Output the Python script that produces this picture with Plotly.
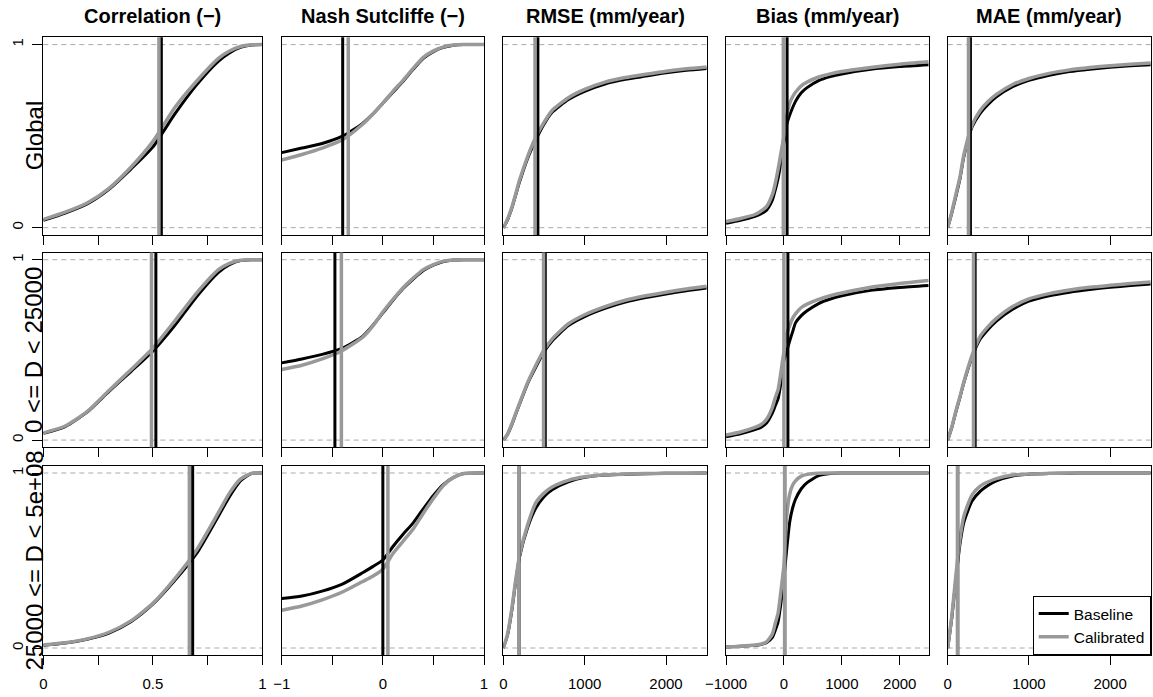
import plotly.graph_objects as go

FONT = "Liberation Sans, Arial, Helvetica, sans-serif"
W, H = 1153, 697
BASE_COLOR = "#000000"
CAL_COLOR = "#999999"

metric_titles = ["Correlation (\u2212)", "Nash Sutcliffe (\u2212)", "RMSE (mm/year)",
                 "Bias (mm/year)", "MAE (mm/year)"]
group_labels = ["Global", "0 <= D < 25000", "25000 <= D < 5e+08"]
series_names = ["Baseline", "Calibrated"]

# ---- Correlation: empirical CDFs ----
corr_x = [0, 0.1, 0.2, 0.3, 0.4, 0.5, 0.6, 0.7, 0.8, 0.85, 0.9, 0.95, 1.0]
corr_global_base = [0.04, 0.08, 0.13, 0.21, 0.32, 0.44, 0.62, 0.78, 0.91, 0.955, 0.985, 0.998, 1.0]
corr_global_cal = [0.045, 0.085, 0.135, 0.215, 0.33, 0.47, 0.655, 0.80, 0.925, 0.965, 0.99, 0.999, 1.0]
corr_small_base = [0.037, 0.075, 0.155, 0.27, 0.38, 0.493, 0.635, 0.795, 0.93, 0.972, 0.995, 1.0, 1.0]
corr_small_cal = [0.04, 0.078, 0.158, 0.275, 0.39, 0.51, 0.66, 0.815, 0.945, 0.98, 0.997, 1.0, 1.0]
corr_large_base = [0.015, 0.028, 0.05, 0.085, 0.15, 0.25, 0.385, 0.54, 0.755, 0.865, 0.955, 0.997, 1.0]
corr_large_cal = [0.018, 0.03, 0.052, 0.09, 0.155, 0.255, 0.395, 0.56, 0.775, 0.885, 0.965, 0.998, 1.0]
corr_median_base = [0.539, 0.514, 0.682]
corr_median_cal = [0.528, 0.494, 0.667]

# ---- Nash Sutcliffe ----
nse_x = [-1, -0.8, -0.6, -0.4, -0.2, -0.1, 0, 0.1, 0.2, 0.3, 0.4, 0.5, 0.6, 0.7, 0.8, 1.0]
nse_global_base = [0.41, 0.435, 0.46, 0.50, 0.57, 0.62, 0.68, 0.74, 0.80, 0.865, 0.925, 0.962, 0.985, 0.997, 1.0, 1.0]
nse_global_cal = [0.37, 0.40, 0.435, 0.48, 0.565, 0.62, 0.68, 0.745, 0.805, 0.87, 0.93, 0.966, 0.988, 0.998, 1.0, 1.0]
nse_small_base = [0.428, 0.45, 0.475, 0.51, 0.575, 0.635, 0.705, 0.775, 0.84, 0.893, 0.94, 0.97, 0.99, 0.998, 1.0, 1.0]
nse_small_cal = [0.391, 0.415, 0.45, 0.497, 0.57, 0.632, 0.71, 0.78, 0.845, 0.898, 0.945, 0.973, 0.992, 0.999, 1.0, 1.0]
nse_large_base = [0.283, 0.297, 0.325, 0.365, 0.43, 0.465, 0.503, 0.58, 0.65, 0.715, 0.795, 0.872, 0.935, 0.975, 0.997, 1.0]
nse_large_cal = [0.216, 0.24, 0.275, 0.32, 0.38, 0.41, 0.45, 0.54, 0.61, 0.68, 0.77, 0.855, 0.93, 0.975, 0.997, 1.0]
nse_median_base = [-0.397, -0.474, 0.0]
nse_median_cal = [-0.342, -0.41, 0.05]

# ---- RMSE ----
rmse_x = [0, 50, 100, 150, 200, 300, 400, 500, 600, 800, 1000, 1250, 1500, 1750, 2000, 2250, 2500]
rmse_global_base = [0.0, 0.04, 0.10, 0.175, 0.25, 0.38, 0.48, 0.565, 0.63, 0.70, 0.745, 0.785, 0.81, 0.828, 0.846, 0.86, 0.87]
rmse_global_cal = [0.0, 0.045, 0.105, 0.18, 0.26, 0.39, 0.495, 0.575, 0.64, 0.71, 0.755, 0.795, 0.82, 0.838, 0.855, 0.868, 0.878]
rmse_small_base = [0.0, 0.03, 0.08, 0.14, 0.20, 0.315, 0.405, 0.49, 0.55, 0.635, 0.685, 0.73, 0.765, 0.79, 0.81, 0.828, 0.843]
rmse_small_cal = [0.0, 0.032, 0.085, 0.145, 0.205, 0.32, 0.415, 0.50, 0.56, 0.645, 0.695, 0.74, 0.775, 0.80, 0.82, 0.838, 0.853]
rmse_large_base = [0.0, 0.07, 0.20, 0.37, 0.52, 0.69, 0.80, 0.865, 0.905, 0.95, 0.975, 0.988, 0.993, 0.996, 0.998, 0.999, 1.0]
rmse_large_cal = [0.0, 0.075, 0.21, 0.38, 0.53, 0.705, 0.83, 0.885, 0.92, 0.958, 0.978, 0.99, 0.994, 0.997, 0.998, 0.999, 1.0]
rmse_median_base = [425, 516, 193]
rmse_median_cal = [390, 495, 190]

# ---- Bias ----
bias_x = [-1000, -750, -500, -400, -300, -200, -150, -100, -50, 0, 50, 100, 150, 200, 300, 400,
          600, 800, 1000, 1500, 2000, 2500]
bias_global_base = [0.024, 0.04, 0.062, 0.075, 0.096, 0.15, 0.205, 0.27, 0.36, 0.465, 0.565, 0.615,
                    0.655, 0.69, 0.737, 0.765, 0.803, 0.825, 0.84, 0.865, 0.88, 0.89]
bias_global_cal = [0.033, 0.05, 0.072, 0.09, 0.115, 0.18, 0.24, 0.32, 0.41, 0.50, 0.61, 0.68,
                   0.715, 0.74, 0.775, 0.795, 0.823, 0.84, 0.853, 0.875, 0.893, 0.906]
bias_small_base = [0.019, 0.035, 0.058, 0.07, 0.095, 0.15, 0.19, 0.23, 0.32, 0.44, 0.495, 0.55,
                   0.60, 0.65, 0.69, 0.717, 0.757, 0.782, 0.80, 0.83, 0.846, 0.857]
bias_small_cal = [0.028, 0.045, 0.07, 0.085, 0.115, 0.18, 0.235, 0.28, 0.38, 0.49, 0.59, 0.635,
                  0.675, 0.70, 0.735, 0.754, 0.78, 0.80, 0.815, 0.847, 0.868, 0.885]
bias_large_base = [0.005, 0.01, 0.015, 0.02, 0.03, 0.06, 0.10, 0.15, 0.26, 0.40, 0.57, 0.72,
                   0.80, 0.85, 0.91, 0.945, 0.985, 0.997, 1.0, 1.0, 1.0, 1.0]
bias_large_cal = [0.005, 0.01, 0.017, 0.022, 0.035, 0.08, 0.14, 0.20, 0.33, 0.47, 0.76, 0.88,
                  0.93, 0.955, 0.982, 0.992, 0.999, 1.0, 1.0, 1.0, 1.0, 1.0]
bias_median_base = [55, 69, 15]
bias_median_cal = [-10, 0, 12]

# ---- MAE ----
mae_x = [0, 50, 100, 150, 200, 300, 400, 500, 600, 800, 1000, 1250, 1500, 1750, 2000, 2250, 2500]
mae_global_base = [0.0, 0.08, 0.17, 0.265, 0.39, 0.55, 0.625, 0.675, 0.715, 0.77, 0.805, 0.833, 0.853, 0.866, 0.876, 0.884, 0.89]
mae_global_cal = [0.0, 0.085, 0.18, 0.275, 0.40, 0.56, 0.64, 0.69, 0.728, 0.782, 0.815, 0.843, 0.862, 0.875, 0.885, 0.893, 0.90]
mae_small_base = [0.0, 0.07, 0.155, 0.235, 0.32, 0.46, 0.56, 0.615, 0.66, 0.725, 0.77, 0.80, 0.82, 0.835, 0.847, 0.857, 0.866]
mae_small_cal = [0.0, 0.072, 0.16, 0.24, 0.325, 0.47, 0.575, 0.63, 0.675, 0.74, 0.783, 0.812, 0.832, 0.847, 0.858, 0.868, 0.877]
mae_large_base = [0.0, 0.17, 0.39, 0.59, 0.72, 0.84, 0.895, 0.93, 0.955, 0.983, 0.993, 0.997, 0.999, 1.0, 1.0, 1.0, 1.0]
mae_large_cal = [0.0, 0.18, 0.41, 0.62, 0.755, 0.875, 0.925, 0.95, 0.968, 0.988, 0.995, 0.998, 1.0, 1.0, 1.0, 1.0, 1.0]
mae_median_base = [280, 338, 124]
mae_median_cal = [256, 318, 120]

# ---- axis settings per metric ----
x_ranges = [[0, 1], [-1, 1], [0, 2500], [-1000, 2500], [0, 2500]]
x_tickvals = [[0, 0.25, 0.5, 0.75, 1], [-1, -0.5, 0, 0.5, 1], [0, 1000, 2000],
              [-1000, 0, 1000, 2000], [0, 1000, 2000]]
x_ticktext = [["0", "", "0.5", "", "1"], ["\u22121", "", "0", "", "1"], ["0", "1000", "2000"],
              ["\u22121000", "0", "1000", "2000"], ["0", "1000", "2000"]]

metrics = [
    (corr_x, [corr_global_base, corr_small_base, corr_large_base],
     [corr_global_cal, corr_small_cal, corr_large_cal], corr_median_base, corr_median_cal),
    (nse_x, [nse_global_base, nse_small_base, nse_large_base],
     [nse_global_cal, nse_small_cal, nse_large_cal], nse_median_base, nse_median_cal),
    (rmse_x, [rmse_global_base, rmse_small_base, rmse_large_base],
     [rmse_global_cal, rmse_small_cal, rmse_large_cal], rmse_median_base, rmse_median_cal),
    (bias_x, [bias_global_base, bias_small_base, bias_large_base],
     [bias_global_cal, bias_small_cal, bias_large_cal], bias_median_base, bias_median_cal),
    (mae_x, [mae_global_base, mae_small_base, mae_large_base],
     [mae_global_cal, mae_small_cal, mae_large_cal], mae_median_base, mae_median_cal),
]

# panel boxes in pixels (left, right) and (top, bottom)
col_px = [(43.3, 262.3), (281.7, 484.0), (503.3, 706.7), (726.0, 928.7), (947.7, 1150.7)]
row_px = [(37.3, 235.0), (252.5, 447.3), (466.0, 655.0)]

fig = go.Figure()
layout = dict(
    width=W, height=H, margin=dict(l=0, r=0, t=0, b=0, autoexpand=False),
    paper_bgcolor="white", plot_bgcolor="white",
    font=dict(family=FONT, size=15, color="black"),
    showlegend=True,
    legend=dict(
        x=1150.7 / W, y=1 - 655.0 / H, xanchor="right", yanchor="bottom",
        bgcolor="white", bordercolor="black", borderwidth=1,
        font=dict(family=FONT, size=15.5, color="black"),
        itemwidth=30, tracegroupgap=0,
    ),
)
shapes = []
annotations = []

for r in range(3):
    t, b = row_px[r]
    for c in range(5):
        k = r * 5 + c + 1
        sfx = "" if k == 1 else str(k)
        l, rr = col_px[c]
        xs, base_rows, cal_rows, med_b, med_c = metrics[c]
        xa, ya = "x" + sfx, "y" + sfx

        fig.add_trace(go.Scatter(
            x=xs, y=base_rows[r], mode="lines", name=series_names[0],
            line=dict(color=BASE_COLOR, width=3, shape="spline", smoothing=0.6),
            xaxis=xa, yaxis=ya, showlegend=(k == 1), hoverinfo="skip"))
        fig.add_trace(go.Scatter(
            x=xs, y=cal_rows[r], mode="lines", name=series_names[1],
            line=dict(color=CAL_COLOR, width=3.5, shape="spline", smoothing=0.6),
            xaxis=xa, yaxis=ya, showlegend=(k == 1), hoverinfo="skip"))

        bottom = r == 2
        left = c == 0
        layout["xaxis" + sfx] = dict(
            domain=[l / W, rr / W], range=x_ranges[c], anchor=ya, automargin=False,
            showline=True, linecolor="black", linewidth=1, mirror=True,
            showgrid=False, zeroline=False,
            tickmode="array", tickvals=x_tickvals[c], ticktext=x_ticktext[c],
            ticks="outside", ticklen=9, tickwidth=1, tickcolor="black",
            showticklabels=bottom, ticklabelstandoff=6,
            tickfont=dict(family=FONT, size=15, color="black"),
        )
        layout["yaxis" + sfx] = dict(
            domain=[1 - b / H, 1 - t / H], range=[-0.04, 1.04], anchor=xa, automargin=False,
            showline=True, linecolor="black", linewidth=1, mirror=True,
            showgrid=False, zeroline=False,
            tickmode="array", tickvals=[0, 1], ticktext=["0", "1"],
            ticks="outside" if left else "", ticklen=10, tickwidth=1, tickcolor="black",
            showticklabels=left, tickangle=-90, ticklabelstandoff=3,
            tickfont=dict(family=FONT, size=15, color="black"),
        )

        # reference levels of the CDF
        for lvl in (0, 1):
            shapes.append(dict(
                type="line", xref=xa + " domain", yref=ya, x0=0, x1=1, y0=lvl, y1=lvl,
                line=dict(color="#aaaaaa", width=1, dash="5px,4px"), layer="below"))
        # medians
        shapes.append(dict(
            type="line", xref=xa, yref=ya + " domain", x0=med_b[r], x1=med_b[r], y0=0, y1=1,
            line=dict(color=BASE_COLOR, width=3), layer="above"))
        shapes.append(dict(
            type="line", xref=xa, yref=ya + " domain", x0=med_c[r], x1=med_c[r], y0=0, y1=1,
            line=dict(color=CAL_COLOR, width=3.5), layer="above"))

        if r == 0:
            annotations.append(dict(
                text="<b>%s</b>" % metric_titles[c], xref="paper", yref="paper",
                x=(l + rr) / 2 / W, y=1 - 16 / H, xanchor="center", yanchor="middle",
                showarrow=False, font=dict(family=FONT, size=20, color="black")))
    annotations.append(dict(
        text=group_labels[r], xref="paper", yref="paper",
        x=34 / W, y=1 - (t + b) / 2 / H, xanchor="center", yanchor="middle",
        textangle=-90, showarrow=False, font=dict(family=FONT, size=24, color="black")))

layout["shapes"] = shapes
layout["annotations"] = annotations
fig.update_layout(**layout)
fig.write_html("out.html")
